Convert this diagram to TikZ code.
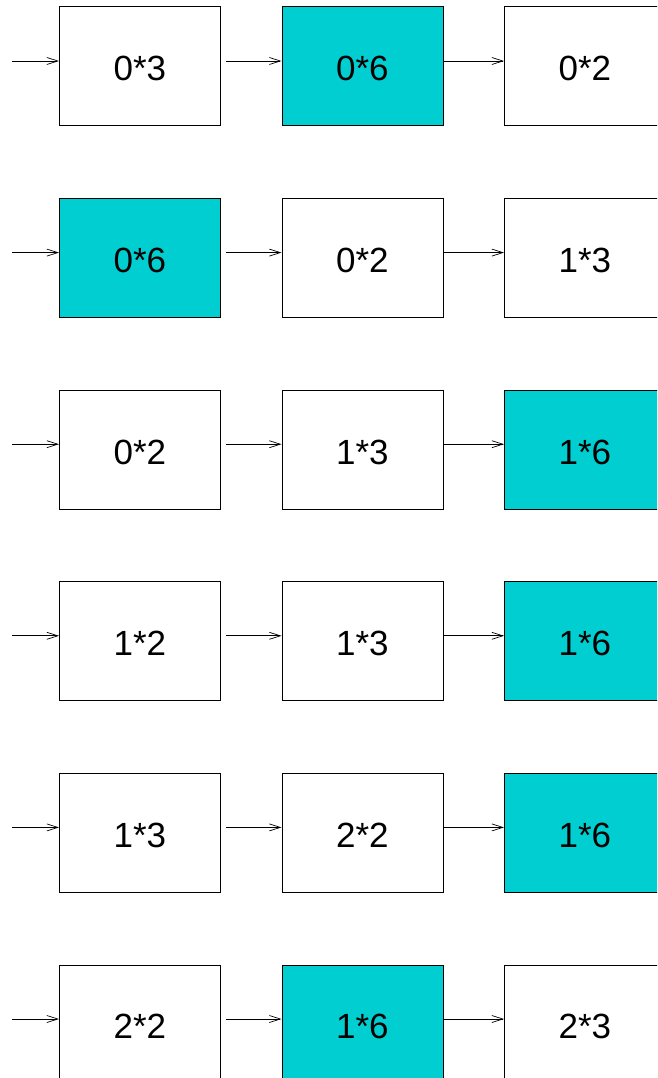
\documentclass[tikz,border=0pt]{standalone}
\usepackage{fontspec}
\setmainfont{Liberation Sans}
\usetikzlibrary{arrows.meta}
\definecolor{turq}{RGB}{0,206,209}
\begin{document}
\begin{tikzpicture}[x=1pt,y=1pt,
  cell/.style={draw=black, line width=0.8pt, minimum width=161pt, minimum height=119pt,
    inner sep=0pt, anchor=north west, font=\fontsize{35}{35}\selectfont,
    text height=29pt, text depth=0pt},
  hot/.style={cell, fill=turq},
  link/.style={draw=black, line width=0.7pt, -{Straight Barb[length=11pt,width=7pt]}}]
\useasboundingbox (0,0) rectangle (657,-1078);
\clip (0,0) rectangle (657,-1078);

% row 1
\coordinate (i1) at (12,-61);
\node[cell] (r1a) at (59,-6.5) {0*3};
\node[hot]  (r1b) at (281.5,-6.5) {0*6};
\node[cell] (r1c) at (504,-6.5) {0*2};
% row 2
\coordinate (i2) at (12,-252.6);
\node[hot]  (r2a) at (59,-198.1) {0*6};
\node[cell] (r2b) at (281.5,-198.1) {0*2};
\node[cell] (r2c) at (504,-198.1) {1*3};
% row 3
\coordinate (i3) at (12,-444.2);
\node[cell] (r3a) at (59,-389.7) {0*2};
\node[cell] (r3b) at (281.5,-389.7) {1*3};
\node[hot]  (r3c) at (504,-389.7) {1*6};
% row 4
\coordinate (i4) at (12,-635.8);
\node[cell] (r4a) at (59,-581.3) {1*2};
\node[cell] (r4b) at (281.5,-581.3) {1*3};
\node[hot]  (r4c) at (504,-581.3) {1*6};
% row 5
\coordinate (i5) at (12,-827.4);
\node[cell] (r5a) at (59,-772.9) {1*3};
\node[cell] (r5b) at (281.5,-772.9) {2*2};
\node[hot]  (r5c) at (504,-772.9) {1*6};
% row 6
\coordinate (i6) at (12,-1019);
\node[cell] (r6a) at (59,-964.5) {2*2};
\node[hot]  (r6b) at (281.5,-964.5) {1*6};
\node[cell] (r6c) at (504,-964.5) {2*3};

% connectors of each row
\foreach \r in {1,...,6}{
  \draw[link] (i\r) -- (r\r a.west |- i\r);
  \draw[link, shorten <=5pt] (r\r a.east |- i\r) -- (r\r b.west |- i\r);
  \draw[link] (r\r b.east |- i\r) -- (r\r c.west |- i\r);
}
\end{tikzpicture}
\end{document}
